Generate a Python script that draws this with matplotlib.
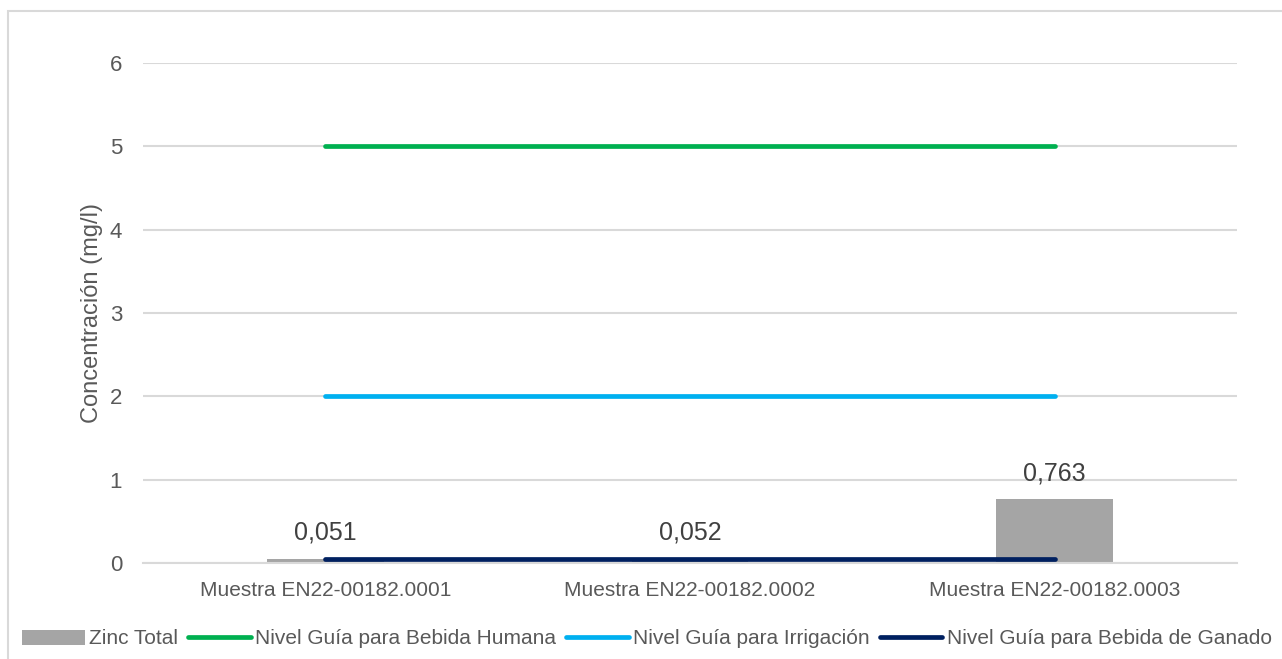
import numpy as np
import matplotlib
matplotlib.use('Agg')
import matplotlib.pyplot as plt
from matplotlib.patches import Rectangle

plt.rcParams['font.family'] = ['Liberation Sans', 'DejaVu Sans']

# --- data -----------------------------------------------------------------
muestras = ['Muestra EN22-00182.0001', 'Muestra EN22-00182.0002', 'Muestra EN22-00182.0003']
zinc_total = [0.051, 0.052, 0.763]
zinc_labels = ['0,051', '0,052', '0,763']
nivel_humana = [5, 5, 5]
nivel_irrigacion = [2, 2, 2]
nivel_ganado = [0.05, 0.05, 0.05]

# --- colours ----------------------------------------------------------------
c_text = '#595959'
c_grid = '#d9d9d9'
c_bar = '#a5a5a5'
c_green = '#00b050'
c_cyan = '#00b0f0'
c_navy = '#002060'

fig = plt.figure(figsize=(12.82, 6.59), dpi=100)
ax = fig.add_axes([0.1115, 0.1457, 0.8535, 0.7587])

x = np.arange(len(muestras))
bars = ax.bar(x, zinc_total, width=0.32, color=c_bar, zorder=2, label='Zinc Total')

lw = 3.4
l1, = ax.plot(x, nivel_humana, color=c_green, lw=lw, solid_capstyle='round', zorder=3,
              label='Nivel Guía para Bebida Humana')
l2, = ax.plot(x, nivel_irrigacion, color=c_cyan, lw=lw, solid_capstyle='round', zorder=3,
              label='Nivel Guía para Irrigación')
l3, = ax.plot(x, nivel_ganado, color=c_navy, lw=lw, solid_capstyle='round', zorder=3,
              label='Nivel Guía para Bebida de Ganado')

# value labels above each bar
for xi, v, t in zip(x, zinc_total, zinc_labels):
    ax.annotate(t, (xi, v), xytext=(0, 19), textcoords='offset points',
                ha='center', va='center', fontsize=18, color='#404040', zorder=4)

ax.set_xlim(-0.5, 2.5)
ax.set_ylim(0, 6)
ax.set_yticks(range(0, 7))
ax.set_xticks(x)
ax.set_xticklabels(muestras)
ax.tick_params(axis='both', length=0, colors=c_text, labelsize=15)
ax.tick_params(axis='y', pad=15, labelsize=16)
ax.tick_params(axis='x', pad=13)
ax.set_ylabel('Concentración (mg/l)', fontsize=17, color=c_text, labelpad=5)

ax.grid(axis='y', color=c_grid, lw=1.5, zorder=0)
for s in ['top', 'right', 'left']:
    ax.spines[s].set_visible(False)
ax.spines['bottom'].set_color(c_grid)
ax.spines['bottom'].set_linewidth(1.5)

# chart-area outline (runs past the right and bottom edges)
fig.patches.append(Rectangle((8 / 1282, -0.2), 1.2, 1.2 - 11 / 659,
                             transform=fig.transFigure, fill=False,
                             edgecolor=c_grid, lw=1.5))

leg = fig.legend(handles=[bars, l1, l2, l3],
                 loc='center left', bbox_to_anchor=(22 / 1282, 1 - 639 / 659),
                 ncol=4, frameon=False, fontsize=15, handlelength=3.0,
                 handletextpad=0.2, columnspacing=0.5, borderpad=0,
                 borderaxespad=0)
for t in leg.get_texts():
    t.set_color(c_text)

fig.savefig('out.png', dpi=100)
